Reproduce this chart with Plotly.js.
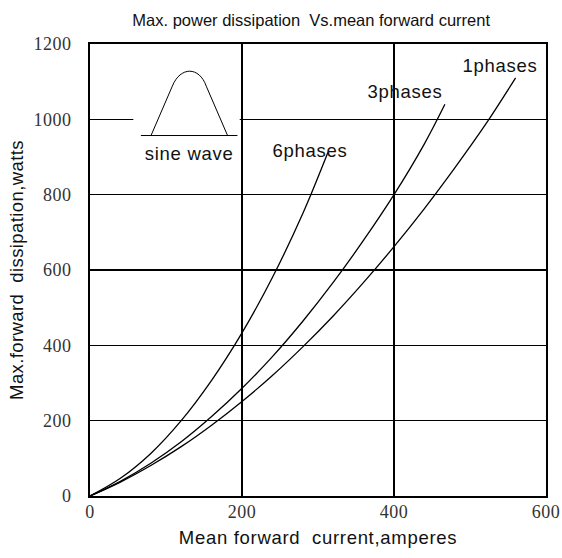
<!DOCTYPE html>
<html>
<head>
<meta charset="utf-8">
<script src="https://cdn.plot.ly/plotly-3.0.1.min.js"></script>
<style>
html,body{margin:0;padding:0;background:#fff;}
#chart{width:562px;height:558px;}
#chart .annotation-text, #chart .xtitle {letter-spacing: 0.7px;}
#chart .ytitle {letter-spacing: 0.4px;}
#chart .xtick text, #chart .ytick text {letter-spacing: 0.5px;}
</style>
</head>
<body>
<div id="chart"></div>
<script>
// Mean forward current (A) and max forward dissipation (W)
const phase1Current = [0, 40, 80, 120, 160, 200, 240, 280, 320, 360, 400, 440, 480, 520, 560];
const phase1Power   = [0, 37, 81, 131, 188, 251, 320, 396, 478, 567, 662, 763, 871, 985, 1110];

const phase3Current = [0, 40, 80, 120, 160, 200, 240, 280, 320, 360, 400, 440, 467];
const phase3Power   = [0, 39, 87, 144, 211, 286, 370, 464, 567, 679, 800, 935, 1040];

const phase6Current = [0, 40, 80, 120, 160, 200, 240, 280, 313];
const phase6Power   = [0, 47, 113, 200, 307, 433, 580, 750, 912];

const seriesNames = ["1phases", "3phases", "6phases"];
const xTicks = [0, 200, 400, 600];
const yTicks = [0, 200, 400, 600, 800, 1000, 1200];

const lineStyle = {color: "#000", width: 1.3, shape: "spline", smoothing: 1};
const traces = [
  {x: phase1Current, y: phase1Power, name: seriesNames[0]},
  {x: phase3Current, y: phase3Power, name: seriesNames[1]},
  {x: phase6Current, y: phase6Power, name: seriesNames[2]}
].map(t => Object.assign(t, {type: "scatter", mode: "lines", line: lineStyle, hoverinfo: "skip"}));

const sans = "Liberation Sans, Arial, sans-serif";
const serif = "Liberation Serif, Times New Roman, serif";

const layout = {
  width: 562, height: 558,
  margin: {l: 90, r: 16, t: 44, b: 62},
  paper_bgcolor: "#fff", plot_bgcolor: "#fff",
  showlegend: false,
  title: {text: "Max. power dissipation  Vs.mean forward current",
          font: {family: sans, size: 16.5, color: "#111"},
          xref: "paper", x: 0.485, xanchor: "center",
          yref: "container", y: 1 - 20/558, yanchor: "middle"},
  xaxis: {range: [0, 600], tickvals: xTicks, ticktext: xTicks.map(String),
          showgrid: true, gridcolor: "#000", gridwidth: 1.5, zeroline: false,
          showline: true, linecolor: "#000", linewidth: 2, mirror: true,
          ticks: "", ticklabelstandoff: -2,
          tickfont: {family: serif, size: 18, color: "#333"},
          title: {text: "Mean forward  current,amperes", standoff: 10,
                  font: {family: sans, size: 18.5, color: "#111"}}},
  yaxis: {range: [0, 1200], tickvals: yTicks, ticktext: yTicks.map(String),
          showgrid: true, gridcolor: "#000", gridwidth: 1.5, zeroline: false,
          showline: true, linecolor: "#000", linewidth: 2, mirror: true,
          ticks: "", ticklabelstandoff: 13,
          tickfont: {family: serif, size: 18, color: "#333"},
          title: {text: "Max.forward  dissipation,watts", standoff: 7,
                  font: {family: sans, size: 18.5, color: "#111"}}},
  shapes: [
    // white box behind the sine-wave inset
    {type: "rect", xref: "x", yref: "y", x0: 57, x1: 197, y0: 860, y1: 1175,
     fillcolor: "#fff", line: {width: 0}, layer: "between"},
    // inset baseline
    {type: "line", xref: "x", yref: "y", x0: 67, x1: 194, y0: 957, y1: 957,
     line: {color: "#000", width: 1}, layer: "above"},
    // inset half sine wave
    {type: "path", xref: "x", yref: "y",
     path: "M 80.3,957 L 108.3,1088 C 118.8,1141 143.8,1141 153,1088 L 181,957",
     line: {color: "#000", width: 1}, layer: "above"}
  ],
  annotations: [
    {text: seriesNames[0], x: 539.5, y: 1143},
    {text: seriesNames[1], x: 414.5, y: 1073},
    {text: seriesNames[2], x: 289.6, y: 918},
    {text: "sine wave", x: 130.7, y: 908}
  ].map(a => Object.assign(a, {xref: "x", yref: "y", showarrow: false,
     xanchor: "center", yanchor: "middle",
     font: {family: sans, size: 18.5, color: "#111"}}))
};

Plotly.newPlot("chart", traces, layout, {displayModeBar: false, staticPlot: true});
</script>
</body>
</html>
